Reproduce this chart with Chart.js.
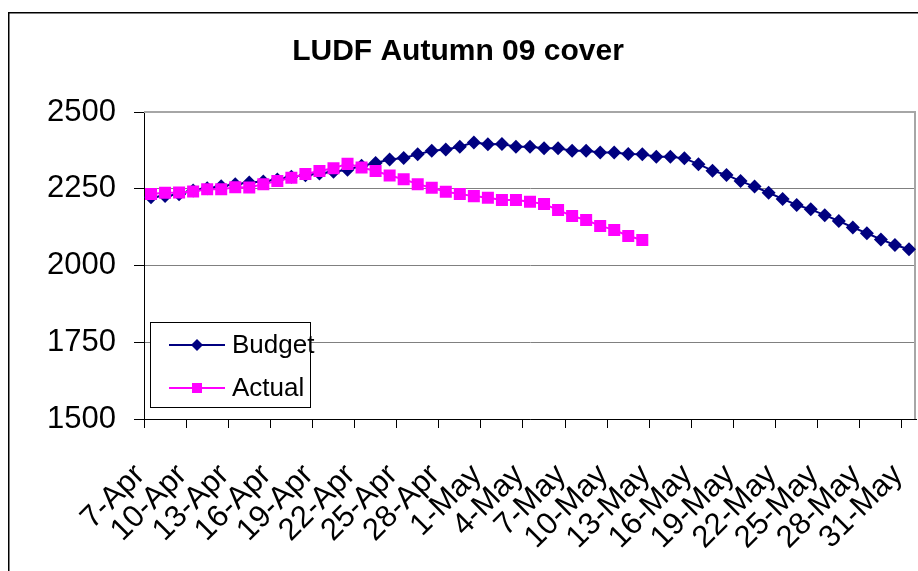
<!DOCTYPE html>
<html><head><meta charset="utf-8">
<script src="https://cdn.jsdelivr.net/npm/chart.js@4.4.1/dist/chart.umd.min.js"></script>
<style>html,body{margin:0;padding:0;background:#fff;}canvas{display:block;}</style>
</head><body>
<canvas id="c" width="918" height="571"></canvas>
<script>
const categories = ['7-Apr','8-Apr','9-Apr','10-Apr','11-Apr','12-Apr','13-Apr','14-Apr','15-Apr','16-Apr','17-Apr','18-Apr','19-Apr','20-Apr','21-Apr','22-Apr','23-Apr','24-Apr','25-Apr','26-Apr','27-Apr','28-Apr','29-Apr','30-Apr',
'1-May','2-May','3-May','4-May','5-May','6-May','7-May','8-May','9-May','10-May','11-May','12-May','13-May','14-May','15-May','16-May','17-May','18-May','19-May','20-May','21-May','22-May','23-May','24-May','25-May','26-May','27-May','28-May','29-May','30-May','31-May'];
const tickLabels = ['7-Apr','10-Apr','13-Apr','16-Apr','19-Apr','22-Apr','25-Apr','28-Apr','1-May','4-May','7-May','10-May','13-May','16-May','19-May','22-May','25-May','28-May','31-May'];
const budget = [2222,2226,2232,2244,2252,2258,2265,2270,2274,2280,2289,2294,2300,2305,2312,2325,2334,2345,2350,2362,2374,2378,2387,2401,2395,2396,2387,2387,2382,2382,2374,2374,2368,2368,2363,2362,2354,2354,2349,2330,2309,2295,2275,2257,2237,2217,2197,2183,2164,2145,2124,2105,2085,2067,2053];
const actual = [2233,2237,2238,2241,2248,2248,2255,2254,2265,2275,2286,2298,2308,2317,2331,2319,2308,2293,2281,2265,2253,2240,2233,2226,2221,2213,2213,2208,2200,2181,2161,2148,2129,2116,2096,2083];
const yTicks = [1500,1750,2000,2250,2500];
const seriesNames = ['Budget','Actual'];

const FONT = "'Liberation Sans', Arial, sans-serif";

const framePlugin = {
  id: 'frame',
  beforeDraw(chart) {
    const ctx = chart.ctx;
    ctx.save();
    ctx.fillStyle = '#fff';
    ctx.fillRect(0, 0, chart.width, chart.height);
    ctx.strokeStyle = '#000';
    ctx.lineWidth = 1.5;
    ctx.strokeRect(8.75, 12.75, chart.width + 10, chart.height + 10);
    ctx.restore();
  },
  beforeDatasetsDraw(chart) {
    const a = chart.chartArea, ctx = chart.ctx;
    ctx.save();
    ctx.strokeStyle = '#a6a6a6';
    ctx.lineWidth = 2;
    ctx.beginPath();
    ctx.moveTo(a.left, a.top);
    ctx.lineTo(a.right - 1, a.top);
    ctx.lineTo(a.right - 1, a.bottom);
    ctx.stroke();
    ctx.restore();
  }
};

function marker(ctx, style, x, y, r) {
  ctx.beginPath();
  if (style === 'rectRot') {
    ctx.moveTo(x, y - r); ctx.lineTo(x + r, y); ctx.lineTo(x, y + r); ctx.lineTo(x - r, y); ctx.closePath();
  } else {
    ctx.rect(x - r, y - r, 2 * r, 2 * r);
  }
  ctx.fill();
}

const legendPlugin = {
  id: 'insideLegend',
  afterDraw(chart) {
    const a = chart.chartArea, ctx = chart.ctx;
    const x0 = a.left + 6, y0 = a.bottom - 97, w = 160, h = 85;
    ctx.save();
    ctx.fillStyle = '#fff';
    ctx.fillRect(x0, y0, w, h);
    ctx.strokeStyle = '#000';
    ctx.lineWidth = 1;
    ctx.strokeRect(x0 + 0.5, y0 + 0.5, w, h);
    const rows = [y0 + 23, y0 + 66];
    chart.data.datasets.forEach((ds, i) => {
      const y = rows[i];
      ctx.strokeStyle = ds.borderColor;
      ctx.fillStyle = ds.backgroundColor;
      ctx.lineWidth = 2;
      ctx.beginPath();
      ctx.moveTo(x0 + 19, y); ctx.lineTo(x0 + 75, y); ctx.stroke();
      marker(ctx, ds.pointStyle, x0 + 47, y, ds.pointStyle === 'rectRot' ? 6 : 5);
      ctx.fillStyle = '#000';
      ctx.font = '26px ' + FONT;
      ctx.textAlign = 'left';
      ctx.textBaseline = 'middle';
      ctx.fillText(ds.label, x0 + 82, y + 1);
    });
    ctx.restore();
  }
};

new Chart(document.getElementById('c'), {
  type: 'line',
  data: {
    labels: categories,
    datasets: [
      { label: seriesNames[0], data: budget, borderColor: '#000080', backgroundColor: '#000080',
        borderWidth: 2, pointStyle: 'rectRot', pointRadius: 7, pointBorderWidth: 0, tension: 0, order: 1 },
      { label: seriesNames[1], data: actual, borderColor: '#FF00FF', backgroundColor: '#FF00FF',
        borderWidth: 2, pointStyle: 'rect', pointRadius: 8.5, pointBorderWidth: 0, tension: 0, order: 0 }
    ]
  },
  options: {
    responsive: false,
    animation: false,
    layout: { autoPadding: false, padding: { left: 0, right: 2, top: 0, bottom: 0 } },
    plugins: {
      legend: { display: false },
      tooltip: { enabled: false },
      title: { display: true, text: 'LUDF Autumn 09 cover', color: '#000',
        font: { family: FONT, size: 30, weight: 'bold' }, padding: { top: 34, bottom: 42 } }
    },
    scales: {
      x: {
        type: 'category',
        offset: true,
        afterFit(s) { s.height = 152; s.paddingLeft = 0; s.paddingRight = 0; },
        border: { color: '#000', width: 1 },
        grid: { offset: true, drawOnChartArea: false, drawTicks: true, tickLength: 9,
          tickColor: (c) => (c.index % 3 === 0 && c.index < categories.length) ? '#000' : 'rgba(0,0,0,0)' },
        ticks: {
          autoSkip: false, minRotation: 45, maxRotation: 45, padding: 29, labelOffset: -11,
          color: '#000', font: { family: FONT, size: 31 },
          callback: (v, i) => tickLabels.includes(categories[i]) ? categories[i] : ''
        }
      },
      y: {
        min: yTicks[0], max: yTicks[yTicks.length - 1],
        afterFit(s) { s.width = 144; },
        afterBuildTicks(s) { s.ticks = yTicks.map(v => ({ value: v })); },
        border: { color: '#000', width: 1 },
        grid: { color: (c) => c.tick && c.tick.value === yTicks[yTicks.length - 1] ? 'rgba(0,0,0,0)' : '#808080',
          lineWidth: 1, drawTicks: true, tickLength: 10, tickColor: '#000' },
        ticks: { color: '#000', padding: 18, font: { family: FONT, size: 31 }, callback: (v) => String(v) }
      }
    }
  },
  plugins: [framePlugin, legendPlugin]
});
</script>
</body></html>
